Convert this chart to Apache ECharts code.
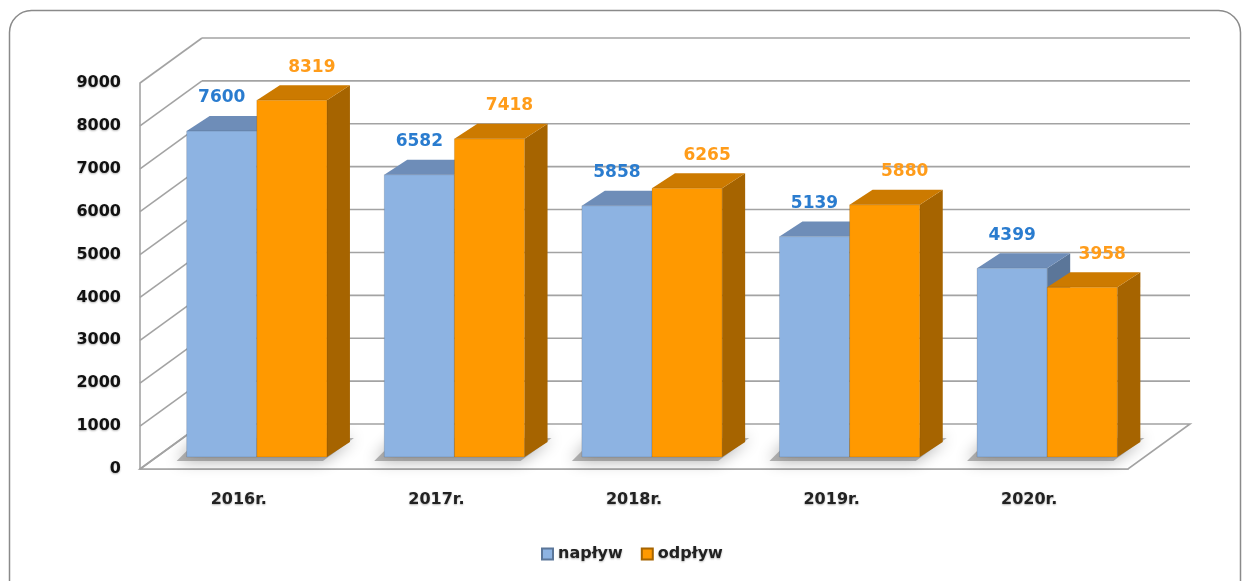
<!DOCTYPE html>
<html>
<head>
<meta charset="utf-8">
<script src="https://cdn.jsdelivr.net/npm/echarts/dist/echarts.min.js"></script>
<style>
  html, body { margin: 0; padding: 0; background: #fff; }
  #main { width: 1246px; height: 581px; }
</style>
</head>
<body>
<div id="main"></div>
<script>
// dane
const categories = ['2016r.', '2017r.', '2018r.', '2019r.', '2020r.'];
const naplyw = [7600, 6582, 5858, 5139, 4399];
const odplyw = [8319, 7418, 6265, 5880, 3958];
const yTicks = [0, 1000, 2000, 3000, 4000, 5000, 6000, 7000, 8000, 9000];

// przesuniecia "3D"
const WALL_DX = 62, WALL_DY = -45;   // tylna sciana
const BAR_DX = 18, BAR_DY = -12;     // plaszczyzna slupkow
const DEPTH_DX = 23, DEPTH_DY = -15; // glebokosc slupka
const FONT = 'DejaVu Sans';

const palette = [
  { front: '#8db3e2', top: '#6e8db8', side: '#5b7699', label: '#2a7ccf' },
  { front: '#ff9900', top: '#cc7a00', side: '#a66400', label: '#ff9c1a' }
];

const chart = echarts.init(document.getElementById('main'));

// sciany i podloga
function renderFrame(params, api) {
  const v = api.value(1);
  const cs = params.coordSys;
  const y = api.coord([0, v])[1];
  const xL = cs.x, xR = cs.x + cs.width;
  const line = { stroke: '#a3a3a3', lineWidth: 1.6 };
  const children = [];
  if (v === 0) {
    children.push({
      type: 'polygon',
      shape: { points: [[xL, y], [xR, y], [xR + WALL_DX, y + WALL_DY], [xL + WALL_DX, y + WALL_DY]] },
      style: { fill: '#fff', stroke: '#a3a3a3', lineWidth: 1.6 }
    });
  } else {
    children.push({
      type: 'line',
      shape: { x1: xL + WALL_DX, y1: y + WALL_DY, x2: xR + WALL_DX, y2: y + WALL_DY },
      style: line
    });
  }
  children.push({
    type: 'line',
    shape: { x1: xL, y1: y, x2: xL + WALL_DX, y2: y + WALL_DY },
    style: line
  });
  return { type: 'group', children: children };
}

function makeBarRenderer(s) {
  return function (params, api) {
    const idx = api.value(0);
    const val = api.value(1);
    const top = api.coord([idx, val]);
    const base = api.coord([idx, 0]);
    const bw = api.size([1, 0])[0] * 0.355;
    const cx = top[0] + BAR_DX;
    const x0 = s === 0 ? cx - bw : cx;
    const x1 = x0 + bw;
    const yb = base[1] + BAR_DY;
    const yt = top[1] + BAR_DY;
    const c = palette[s];
    const children = [];
    if (s === 0) {
      // cien na podlodze
      children.push({
        type: 'polygon',
        shape: { points: [[x0 - 10, yb + 4], [x0 + 2 * bw - 4, yb + 4], [x0 + 2 * bw + DEPTH_DX + 4, yb + DEPTH_DY - 4], [x0 - 10 + DEPTH_DX, yb + DEPTH_DY - 4]] },
        style: { fill: 'rgba(120,120,120,0.55)', shadowBlur: 16, shadowColor: 'rgba(0,0,0,0.6)' }
      });
    }
    children.push({
      type: 'polygon',
      shape: { points: [[x1, yt], [x1 + DEPTH_DX, yt + DEPTH_DY], [x1 + DEPTH_DX, yb + DEPTH_DY], [x1, yb]] },
      style: { fill: c.side }
    });
    children.push({
      type: 'polygon',
      shape: { points: [[x0, yt], [x1, yt], [x1 + DEPTH_DX, yt + DEPTH_DY], [x0 + DEPTH_DX, yt + DEPTH_DY]] },
      style: { fill: c.top }
    });
    children.push({
      type: 'rect',
      shape: { x: x0, y: yt, width: bw, height: yb - yt },
      style: { fill: c.front, stroke: 'rgba(0,0,0,0.12)', lineWidth: 1 }
    });
    children.push({
      type: 'text',
      x: x0 + bw / 2 + (s === 0 ? 0 : 20),
      y: yt - 33,
      style: {
        text: String(val),
        fill: c.label,
        font: 'bold 17px "' + FONT + '"',
        align: 'center',
        verticalAlign: 'middle'
      }
    });
    return { type: 'group', children: children };
  };
}

const option = {
  backgroundColor: '#fff',
  animation: false,
  graphic: [{
    type: 'rect',
    z: -10,
    shape: { x: 9.5, y: 10.5, width: 1231, height: 640, r: 22 },
    style: { fill: 'none', stroke: '#8a8a8a', lineWidth: 1.5 }
  }],
  legend: {
    data: ['napływ', 'odpływ'],
    left: 541,
    top: 546,
    padding: 0,
    itemWidth: 11,
    itemHeight: 11,
    itemGap: 18,
    icon: 'rect',
    textStyle: {
      fontFamily: FONT, fontSize: 16, fontWeight: 'bold', color: '#222',
      textShadowColor: 'rgba(0,0,0,0.3)', textShadowBlur: 2, textShadowOffsetY: 1
    }
  },
  grid: { left: 140, right: 118, top: 83, bottom: 112 },
  xAxis: {
    type: 'category',
    data: categories,
    axisLine: { lineStyle: { color: '#a3a3a3', width: 1.6 } },
    axisTick: { show: false },
    axisLabel: {
      margin: 23,
      fontFamily: FONT, fontSize: 16, fontWeight: 'bold', color: '#222',
      textShadowColor: 'rgba(0,0,0,0.3)', textShadowBlur: 2, textShadowOffsetY: 1
    },
    splitLine: { show: false }
  },
  yAxis: {
    type: 'value',
    min: 0,
    max: 9000,
    interval: 1000,
    axisLine: { show: true, lineStyle: { color: '#a3a3a3', width: 1.6 } },
    axisTick: { show: false },
    splitLine: { show: false },
    axisLabel: {
      margin: 19,
      formatter: v => String(v),
      fontFamily: FONT, fontSize: 16, fontWeight: 'bold', color: '#111',
      textShadowColor: 'rgba(0,0,0,0.3)', textShadowBlur: 2, textShadowOffsetY: 1
    }
  },
  series: [
    {
      name: 'frame',
      type: 'custom',
      z: 1,
      silent: true,
      renderItem: renderFrame,
      encode: { x: 0, y: 1 },
      data: yTicks.map(v => [0, v])
    },
    {
      name: 'napływ',
      type: 'custom',
      z: 2,
      itemStyle: { color: palette[0].front, borderColor: '#5b7699', borderWidth: 1 },
      renderItem: makeBarRenderer(0),
      encode: { x: 0, y: 1 },
      data: naplyw.map((v, i) => [i, v])
    },
    {
      name: 'odpływ',
      type: 'custom',
      z: 3,
      itemStyle: { color: palette[1].front, borderColor: '#a66400', borderWidth: 1 },
      renderItem: makeBarRenderer(1),
      encode: { x: 0, y: 1 },
      data: odplyw.map((v, i) => [i, v])
    }
  ]
};

chart.setOption(option);
</script>
</body>
</html>
